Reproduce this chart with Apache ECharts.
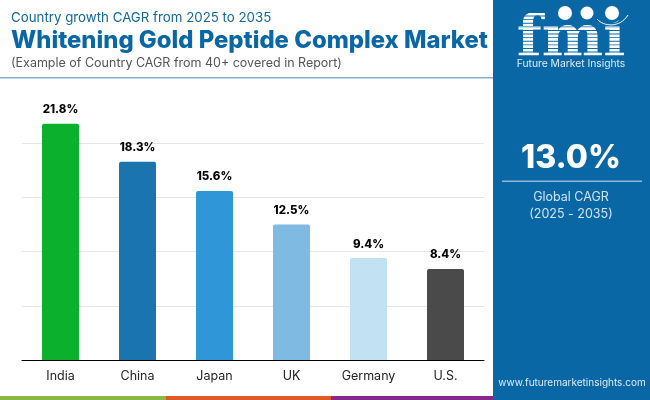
<!DOCTYPE html>
<html>
<head>
<meta charset="utf-8">
<style>html,body{margin:0;padding:0;background:#fff}#chart{width:650px;height:400px}</style>
<script src="https://cdn.jsdelivr.net/npm/echarts@6/dist/echarts.min.js"></script>
</head>
<body>
<div id="chart"></div>
<script>
const countries = ['India', 'China', 'Japan', 'UK', 'Germany', 'U.S.'];
const cagrValues = [21.8, 18.3, 15.6, 12.5, 9.4, 8.4];
const barColors = ['#0BB02C', '#1A75AE', '#2F96D8', '#7EBAE2', '#C2E1F3', '#4A4A4A'];

const fontName = 'Inter, "Open Sans", sans-serif';
const panelBlue = '#0A67A6';

const chart = echarts.init(document.getElementById('chart'), null, { renderer: 'canvas' });

// logo stripes, drawn over the fmi letters
let stripes = [];
for (let y = 12; y < 56; y += 3.6) {
    stripes.push({
        type: 'rect',
        shape: { x: 515, y: y, width: 115, height: 0.9 },
        style: { fill: panelBlue },
        z: 12
    });
}

const option = {
    animation: false,
    backgroundColor: '#fff',
    grid: { left: 22, right: 166, top: 89, bottom: 40 },
    xAxis: {
        type: 'category',
        data: countries,
        axisTick: { show: false },
        axisLine: { lineStyle: { color: '#000', width: 1 } },
        axisLabel: { color: '#222', fontFamily: fontName, fontSize: 12.5, margin: 10 }
    },
    yAxis: {
        type: 'value',
        min: 0,
        max: 25,
        interval: 5,
        axisLine: { show: false },
        axisTick: { show: false },
        axisLabel: { show: false },
        splitLine: {
            lineStyle: { color: '#E6E6E6', width: 1 },
            showMaxLine: false
        }
    },
    series: [{
        type: 'bar',
        barWidth: 37,
        data: cagrValues.map((v, i) => ({ value: v, itemStyle: { color: barColors[i], borderRadius: [2, 2, 0, 0] } })),
        label: {
            show: true,
            position: 'top',
            distance: 8,
            formatter: p => p.value.toFixed(1) + '%',
            color: '#000',
            fontFamily: fontName,
            fontWeight: 800,
            fontSize: 11.5
        }
    }],
    graphic: [
        { type: 'text', left: 11, top: 11, style: { text: 'Country growth CAGR from 2025 to 2035', fill: '#14679F', font: '13.3px ' + fontName } },
        { type: 'text', left: 11, top: 29, style: { text: 'Whitening Gold Peptide Complex Market', fill: '#0A67A6', font: '800 23.85px ' + fontName } },
        { type: 'text', left: 11, top: 57, style: { text: '(Example of Country CAGR from 40+ covered in Report)', fill: '#555', font: '12.5px ' + fontName } },
        { type: 'rect', shape: { x: 0, y: 77, width: 493, height: 1.5 }, style: { fill: '#8AB0CC' } },

        { type: 'rect', shape: { x: 493, y: 0, width: 157, height: 400 }, style: { fill: panelBlue }, z: 5 },
        { type: 'rect', shape: { x: 0, y: 396, width: 166, height: 4 }, style: { fill: '#8AB845' } },
        { type: 'rect', shape: { x: 166, y: 396, width: 165, height: 4 }, style: { fill: '#E0592A' } },
        { type: 'rect', shape: { x: 331, y: 396, width: 165, height: 4 }, style: { fill: '#86298A' }, z: 4 },

        // logo
        { type: 'text', x: 571, y: 70, style: { text: 'fmi', fill: '#fff', font: '900 58px "DejaVu Serif", serif', textAlign: 'center', textVerticalAlign: 'bottom', textBaseline: 'alphabetic' }, z: 10 },
        ...stripes,
        { type: 'circle', shape: { cx: 612, cy: 13, r: 10 }, style: { fill: panelBlue }, z: 13 },
        { type: 'rect', shape: { x: 600, y: 0, width: 24, height: 20 }, style: { fill: panelBlue }, z: 13 },
        { type: 'circle', shape: { cx: 565, cy: 13, r: 7 }, style: { fill: '#fff' }, z: 14 },
        { type: 'circle', shape: { cx: 587, cy: 13, r: 6.5 }, style: { fill: '#fff' }, z: 14 },
        { type: 'circle', shape: { cx: 612, cy: 13, r: 7 }, style: { fill: '#fff' }, z: 14 },
        { type: 'bezierCurve', shape: { x1: 597, y1: 19, cpx1: 604, cpy1: 27, cpx2: 620, cpy2: 28, x2: 628, y2: 15 }, style: { stroke: '#fff', lineWidth: 1, fill: 'none' }, z: 14 },
        { type: 'text', x: 571, y: 64, style: { text: 'Future Market Insights', fill: '#DCEBF6', font: '10.3px ' + fontName, textAlign: 'center', textVerticalAlign: 'middle' }, z: 10 },

        // global CAGR block
        { type: 'text', x: 571, y: 158, style: { text: '13.0%', fill: '#fff', font: '800 32px ' + fontName, textAlign: 'center', textVerticalAlign: 'middle' }, z: 10 },
        { type: 'rect', shape: { x: 502, y: 180.5, width: 140, height: 1.5 }, style: { fill: '#8DB8DC' }, z: 10 },
        { type: 'text', x: 571, y: 197.5, style: { text: 'Global CAGR', fill: '#CFE3F3', font: '12.5px ' + fontName, textAlign: 'center', textVerticalAlign: 'middle' }, z: 10 },
        { type: 'text', x: 571, y: 214, style: { text: '(2025 - 2035)', fill: '#CFE3F3', font: '12.5px ' + fontName, textAlign: 'center', textVerticalAlign: 'middle' }, z: 10 },
        { type: 'text', x: 572, y: 383, style: { text: 'www.futuremarketinsights.com', fill: '#DCEBF6', font: '10px ' + fontName, textAlign: 'center', textVerticalAlign: 'middle' }, z: 10 }
    ]
};

chart.setOption(option);
</script>
</body>
</html>
